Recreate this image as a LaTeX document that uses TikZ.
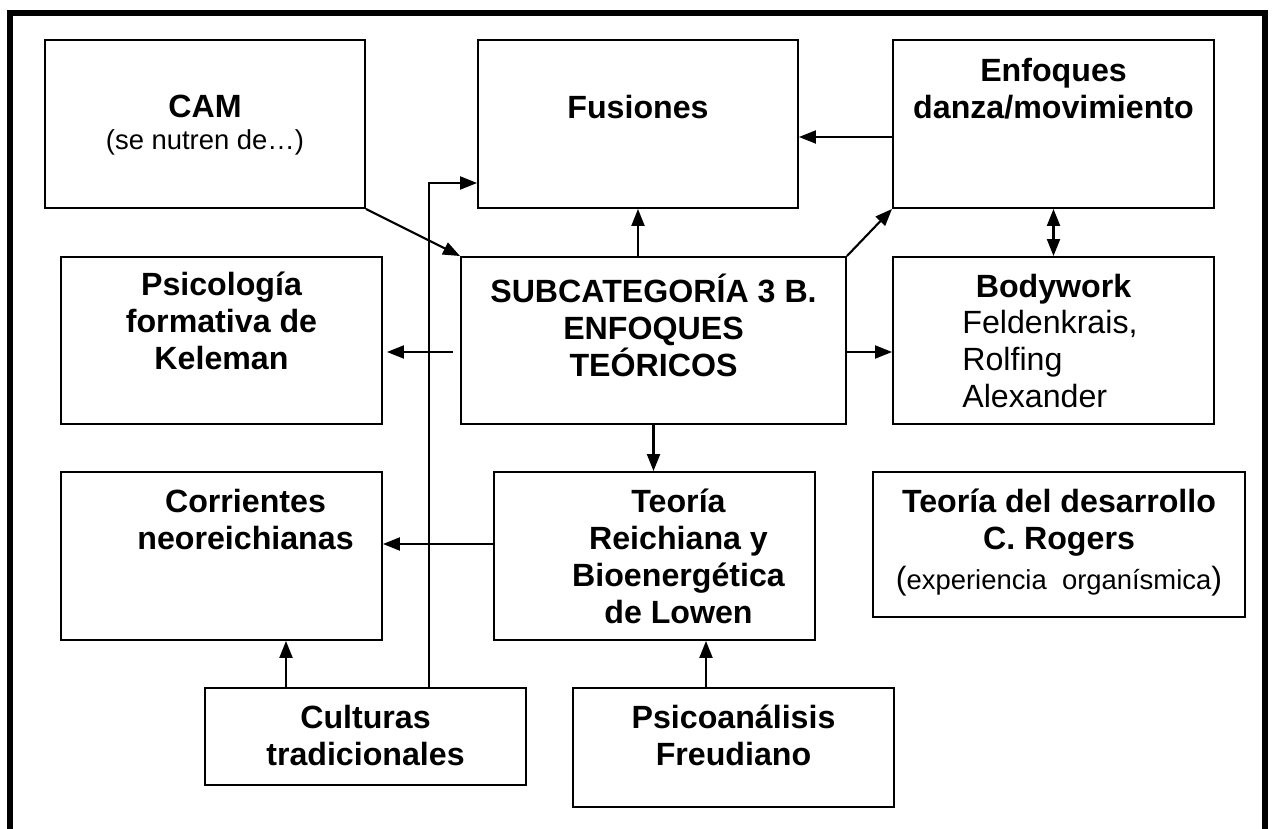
\documentclass[tikz,border=0pt]{standalone}
\usepackage{fontspec}
\setmainfont{Liberation Sans}
\usetikzlibrary{arrows.meta}

\newcommand{\bigtxt}{\fontsize{18.3}{21}\selectfont}
\newcommand{\smalltxt}{\fontsize{15.6}{18.2}\selectfont}

\tikzset{
  box/.style={draw, line width=1.1pt, inner sep=0pt},
  lbl/.style={anchor=north, inner sep=0pt, align=center, font=\bigtxt\bfseries},
  arr/.style={->, line width=1.2pt}
}

\begin{document}
\begin{tikzpicture}[>={Triangle[length=0.34cm,width=0.26cm]}]
\useasboundingbox (0,0) rectangle (25.46,-16.58);
% outer frame, open at the bottom
\draw[line width=0.12cm] (0.20,-16.58) -- (0.20,-0.26) -- (25.30,-0.26) -- (25.30,-16.58);

% boxes
\node[box, minimum width=6.40cm, minimum height=3.36cm] (cam) at (4.10,-2.48) {};
\node[box, minimum width=6.40cm, minimum height=3.36cm] (fus) at (12.76,-2.48) {};
\node[box, minimum width=6.42cm, minimum height=3.36cm] (enf) at (21.07,-2.48) {};
\node[box, minimum width=6.42cm, minimum height=3.34cm] (psi) at (4.43,-6.81) {};
\node[box, minimum width=7.70cm, minimum height=3.34cm] (sub) at (13.07,-6.81) {};
\node[box, minimum width=6.42cm, minimum height=3.34cm] (body) at (21.07,-6.81) {};
\node[box, minimum width=6.42cm, minimum height=3.36cm] (cor) at (4.43,-11.12) {};
\node[box, minimum width=6.42cm, minimum height=3.36cm] (rei) at (13.09,-11.12) {};
\node[box, minimum width=7.44cm, minimum height=2.90cm] (rog) at (21.18,-10.89) {};
\node[box, minimum width=6.42cm, minimum height=1.94cm] (cul) at (7.31,-14.73) {};
\node[box, minimum width=6.42cm, minimum height=2.38cm] (fre) at (14.67,-14.95) {};

% texts
\node[lbl, font=\smalltxt] (camT) at ([yshift=-1.12cm]cam.north) {{\bigtxt\bfseries CAM}\\(se nutren de…)};
\node[lbl] (fusT) at ([yshift=-1.12cm]fus.north) {Fusiones};
\node[lbl] (enfT) at ([yshift=-0.38cm]enf.north) {Enfoques\\danza/movimiento};
\node[lbl] (psiT) at ([yshift=-0.32cm]psi.north) {Psicología\\formativa de\\Keleman};
\node[lbl] (subT) at ([yshift=-0.36cm]sub.north) {SUBCATEGORÍA 3 B.\\ENFOQUES\\TEÓRICOS};
\node[lbl] (bodyT) at ([yshift=-0.36cm]body.north) {Bodywork};
\node[lbl, anchor=north west, align=left, font=\bigtxt] (bodyL) at ([xshift=1.40cm,yshift=-1.08cm]body.north west) {Feldenkrais,\\Rolfing\\Alexander};
\node[lbl] (corT) at ([xshift=0.48cm,yshift=-0.36cm]cor.north) {Corrientes\\neoreichianas};
\node[lbl] (reiT) at ([xshift=0.48cm,yshift=-0.36cm]rei.north) {Teoría\\Reichiana y\\Bioenergética\\de Lowen};
\node[lbl] (rogT) at ([yshift=-0.36cm]rog.north) {Teoría del desarrollo\\C. Rogers\\[0.06cm]{\mdseries\bigtxt(}{\mdseries\smalltxt experiencia~~organísmica}{\mdseries\bigtxt)}};
\node[lbl] (culT) at ([yshift=-0.36cm]cul.north) {Culturas\\tradicionales};
\node[lbl] (freT) at ([yshift=-0.36cm]fre.north) {Psicoanálisis\\Freudiano};

% connectors
\coordinate (culL) at ([xshift=-1.59cm]cul.north);
\coordinate (culR) at ([xshift=1.27cm]cul.north);
\coordinate (freL) at ([xshift=-0.55cm]fre.north);
\draw[arr] (cam.south east) -- (sub.north west);
\draw[arr] (sub.north -| fus.south) -- (fus.south);
\draw[arr] ([yshift=-0.26cm]enf.west) -- ([yshift=-0.26cm]fus.east);
\draw[arr] (sub.north east) -- (enf.south west);
\draw[<->, line width=1.2pt] (enf.south) -- (body.north);
\draw[arr, shorten <=0.14cm, shorten >=0.08cm] ([yshift=-0.23cm]sub.west) -- ([yshift=-0.23cm]psi.east);
\draw[arr] ([yshift=-0.23cm]sub.east) -- ([yshift=-0.23cm]body.west);
\draw[arr] (sub.south) -- (sub.south |- rei.north);
\draw[arr] ([yshift=0.24cm]rei.west) -- ([yshift=0.24cm]cor.east);
\draw[arr] (culL) -- (culL |- cor.south);
\draw[arr] (culR) |- ([yshift=-1.18cm]fus.west);
\draw[arr] (freL) -- (freL |- rei.south);
\end{tikzpicture}
\end{document}
